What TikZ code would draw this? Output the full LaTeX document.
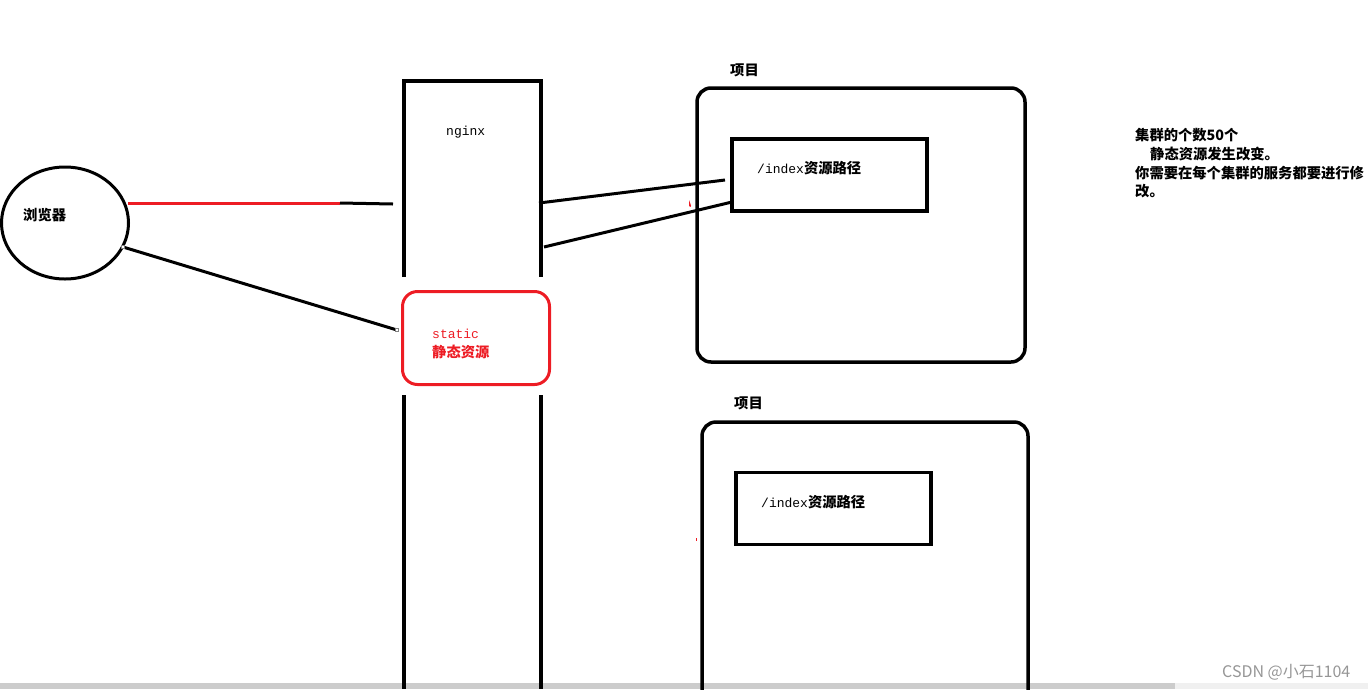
\documentclass[tikz,border=0pt]{standalone}
\usepackage{fontspec}
\newfontfamily\cjk{Noto Sans CJK SC}
\newfontfamily\mono{Liberation Mono}
\usetikzlibrary{shapes.geometric,calc}
\definecolor{redline}{RGB}{237,28,36}
\definecolor{wmgray}{RGB}{150,150,150}
\tikzset{
  thick3/.style={line width=3pt},
  lbl/.style={anchor=west, inner sep=0pt, font=\cjk\bfseries\fontsize{14.3}{16}\selectfont},
  monolbl/.style={anchor=west, inner sep=0pt, font=\mono\fontsize{13}{16}\selectfont},
  projbox/.style={draw, line width=3.5pt, rounded corners=14pt},
  pathbox/.style={draw, line width=3.5pt},
}
\begin{document}
\begin{tikzpicture}[x=1pt,y=-1pt]
\useasboundingbox (0,0) rectangle (1368,689);
% scrollbar
\fill[gray!40] (0,683) rectangle (1175,689);
\fill[gray!12] (1175,683) rectangle (1368,689);

% browser
\node[draw, thick3, ellipse, minimum width=127pt, minimum height=112pt, inner sep=0pt] (browser) at (65,223) {};
\node[lbl] (browserlbl) at (23,215) {浏览器};

% nginx pillar
\draw[line width=3.5pt] (404,277) -- (404,81) -- (541,81) -- (541,277);
\draw[line width=3.5pt] (404,395) -- (404,689);
\draw[line width=3.5pt] (541,395) -- (541,689);
\node[monolbl] (nginxlbl) at (446,132) {nginx};

% static box
\node[draw=redline, thick3, rounded corners=15pt, minimum width=147pt, minimum height=93pt, inner sep=0pt] (static) at (476,338) {};
\node[monolbl, text=redline] (staticlbl) at (432,334) {static};
\node[lbl, text=redline] (staticcn) at (432,352) {静态资源};

% project 1
\node[lbl] (proj1lbl) at (730,70) {项目};
\draw[projbox] (697,88) rectangle (1025,362);
\node[pathbox, minimum width=195pt, minimum height=72pt, inner sep=0pt] (idx1) at (829.5,175) {};
\node[anchor=west, inner sep=0pt] (idx1lbl) at (757,168) {{\mono\fontsize{13}{16}\selectfont /index}{\cjk\bfseries\fontsize{14.3}{16}\selectfont 资源路径}};

% project 2
\node[lbl] (proj2lbl) at (734,403) {项目};
\draw[projbox] (702,700) -- (702,422) -- (1028,422) -- (1028,700);
\node[pathbox, minimum width=195pt, minimum height=72pt, inner sep=0pt] (idx2) at (833.5,508.5) {};
\node[anchor=west, inner sep=0pt] (idx2lbl) at (761,502) {{\mono\fontsize{13}{16}\selectfont /index}{\cjk\bfseries\fontsize{14.3}{16}\selectfont 资源路径}};

% connectors
\coordinate (bR) at (128,203);
\coordinate (bMid) at (340,203);
\coordinate (nL) at (393,204);
\coordinate (bLow) at (123,247);
\coordinate (sL) at (397,330);
\coordinate (nR1) at (539,203);
\coordinate (iL1) at (725,180);
\coordinate (nR2) at (544,247);
\coordinate (iL2) at (732,202);
\draw[thick3, redline] (bR) -- (bMid);
\draw[thick3] (bMid) -- (nL);
\draw[thick3] (bLow) -- (sL);
\draw[line width=0.6pt, fill=white, draw=gray] ($(bLow)+(-1.5,-1.5)$) rectangle ++(3,3);
\draw[line width=0.6pt, fill=white, draw=gray] ($(sL)+(-1.5,-1.5)$) rectangle ++(3,3);
\draw[thick3] (nR1) -- (iL1);
\draw[thick3] (nR2) -- (iL2);

% tiny red marks
\fill[redline] (689,200) -- (690.5,204) .. controls (692,207) and (690,208) .. (689,206) -- cycle;
\fill[redline] (696,538) rectangle (697,541);

% right note
\node[lbl] (n1) at (1135,135) {集群的个数50个};
\node[lbl] (n2) at (1150,154) {静态资源发生改变。};
\node[lbl] (n3) at (1135,173) {你需要在每个集群的服务都要进行修};
\node[lbl] (n4) at (1135,191) {改。};

% watermark
\node[anchor=west, inner sep=0pt, text=wmgray, font=\cjk\fontsize{16}{18}\selectfont] (wm) at (1222,672) {CSDN @小石1104};
\end{tikzpicture}
\end{document}
